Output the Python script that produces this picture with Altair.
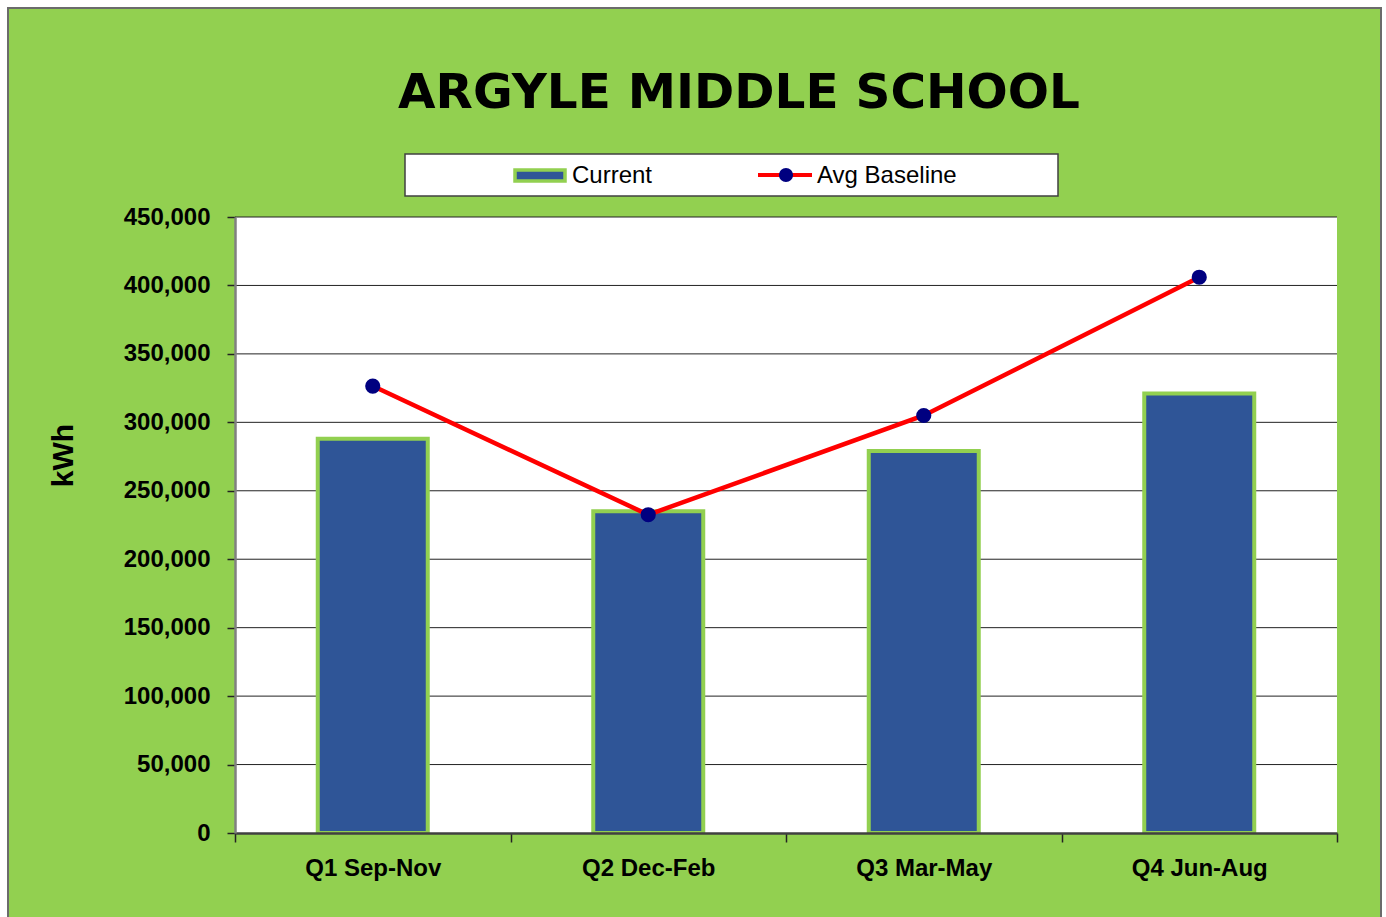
import altair as alt
import pandas as pd

# ---- data ----
quarters = ["Q1 Sep-Nov", "Q2 Dec-Feb", "Q3 Mar-May", "Q4 Jun-Aug"]
current = [288000, 235000, 279000, 321000]
baseline = [326500, 232500, 305000, 406000]
y_ticks = [0, 50000, 100000, 150000, 200000, 250000, 300000, 350000, 400000, 450000]
legend_labels = ["Current", "Avg Baseline"]
chart_title = ["ARGYLE MIDDLE SCHOOL"]

df = pd.DataFrame({"quarter": quarters, "current": current, "baseline": baseline})

GREEN = "#92D050"
BLUE = "#2F5597"
RED = "#FF0000"
NAVY = "#000080"
SANS = "Liberation Sans, Arial, sans-serif"

W, H = 1102, 616
PL, PT, PR, PB = 235, 217, 49, 84

one = pd.DataFrame({"k": [0]})

# green card behind everything (decoration)
card = alt.Chart(one).mark_rect(fill=GREEN, stroke="#6b6b6b", strokeWidth=2).encode(
    x=alt.value(8 - PL), x2=alt.value(1381 - PL),
    y=alt.value(8 - PT), y2=alt.value(917 - PT + 10),
)
plotbg = alt.Chart(one).mark_rect(fill="white").encode(
    x=alt.value(0), x2=alt.value(W), y=alt.value(0), y2=alt.value(H)
)

yscale = alt.Scale(domain=[0, 450000], nice=False)

x_axis = alt.Axis(
    labelAngle=0, labelFont=SANS, labelFontSize=24, labelFontWeight="bold",
    labelColor="black", labelPadding=14, tickBand="extent", tickSize=9,
    tickColor="#222", tickWidth=1.5, domainColor="#404040", domainWidth=2.5,
    grid=False, zindex=2,
)
y_axis = alt.Axis(
    values=y_ticks, format=",.0f", title="kWh", titleFont=SANS, titleFontSize=30,
    titleFontWeight="bold", titleColor="black", titleAngle=270, titleAlign="center",
    titleBaseline="middle", titleX=-172, titleY=238,
    labelFont=SANS, labelFontSize=24, labelFontWeight="bold", labelColor="black",
    labelPadding=17, tickSize=8, tickColor="#222", tickWidth=1.5,
    domainColor="#808080", domainWidth=2.5, grid=False, zindex=2,
)

grid = alt.Chart(pd.DataFrame({"v": y_ticks[1:]})).mark_rule(color="#222", strokeWidth=1).encode(
    y=alt.Y("v:Q", scale=yscale, axis=y_axis, title="kWh"), x=alt.value(0), x2=alt.value(W)
)

x_enc = alt.X("quarter:N", sort=quarters, title=None,
              scale=alt.Scale(paddingInner=0, paddingOuter=0), axis=x_axis)

bars = alt.Chart(df).mark_bar(size=110, fill=BLUE, stroke=GREEN, strokeWidth=4).encode(
    x=x_enc,
    y=alt.Y("current:Q", scale=yscale, axis=y_axis, title="kWh"),
)
line = alt.Chart(df).mark_line(color=RED, strokeWidth=4.5).encode(
    x=x_enc, y=alt.Y("baseline:Q", scale=yscale, axis=y_axis, title="kWh")
)
pts = alt.Chart(df).mark_point(filled=True, color=NAVY, size=230, opacity=1).encode(
    x=x_enc, y=alt.Y("baseline:Q", scale=yscale, axis=y_axis, title="kWh")
)

# title as text
title_df = pd.DataFrame({"t": chart_title})
title = alt.Chart(title_df).mark_text(
    font="DejaVu Sans", fontSize=48.5, fontWeight="bold", color="black",
    align="center", baseline="middle"
).encode(x=alt.value(739 - PL), y=alt.value(93 - PT), text="t:N")

# manual legend (box, symbols, labels)
lg_box = alt.Chart(one).mark_rect(fill="white", stroke="#404040", strokeWidth=1.5).encode(
    x=alt.value(170), x2=alt.value(823), y=alt.value(-63), y2=alt.value(-21)
)
lg_sw = alt.Chart(one).mark_rect(fill=BLUE, stroke=GREEN, strokeWidth=3.5).encode(
    x=alt.value(280), x2=alt.value(330), y=alt.value(-47), y2=alt.value(-36)
)
lg_rule = alt.Chart(one).mark_rule(color=RED, strokeWidth=4).encode(
    x=alt.value(523), x2=alt.value(577), y=alt.value(-42)
)
lg_pt = alt.Chart(one).mark_point(filled=True, color=NAVY, size=200, opacity=1).encode(
    x=alt.value(551), y=alt.value(-42)
)
lg_df = pd.DataFrame({"label": legend_labels, "xpos": [337, 582]})
lg_txt = alt.Chart(lg_df).mark_text(
    align="left", baseline="middle", font=SANS, fontSize=24, color="black"
).encode(x=alt.X("xpos:Q", scale=None), y=alt.value(-41), text="label:N")

chart = alt.layer(
    card, plotbg, grid, bars, line, pts, title, lg_box, lg_sw, lg_rule, lg_pt, lg_txt
).properties(
    width=W, height=H,
    padding={"left": PL, "top": PT, "right": PR, "bottom": PB},
    autosize=alt.AutoSizeParams(type="none"),
).configure(background="white").configure_view(stroke="#808080", strokeWidth=2)

chart.save("out.html", embed_options={"renderer": "svg", "actions": False})
